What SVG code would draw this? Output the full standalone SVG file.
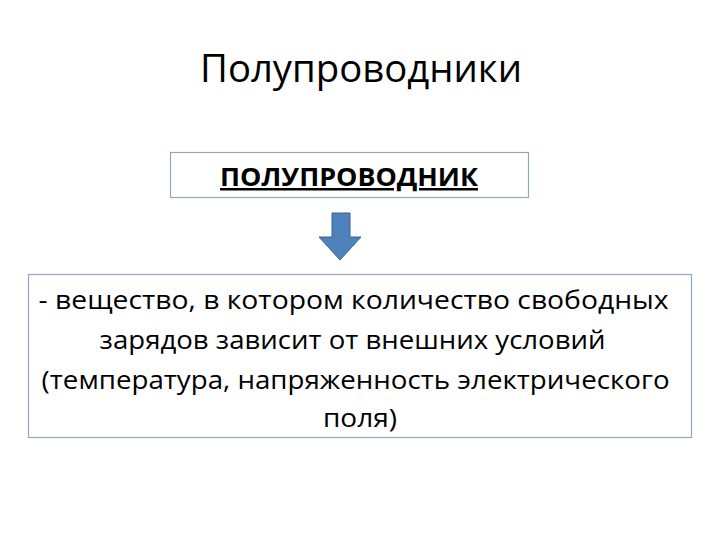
<svg xmlns="http://www.w3.org/2000/svg" width="720" height="540" viewBox="0 0 720 540">
<style>
.t{font-family:"Open Sans","Noto Sans","Liberation Sans",sans-serif;fill:#000;text-anchor:middle}
.box{fill:#fff;stroke:#8FA8BF;stroke-width:1.2}
</style>
<rect width="720" height="540" fill="#fff"/>
<text class="t" x="361" y="82" font-size="38" textLength="322" lengthAdjust="spacingAndGlyphs">Полупроводники</text>
<g id="term">
<rect class="box" x="170.5" y="152.5" width="358" height="45"/>
<text class="t" x="349" y="186" font-size="25" font-weight="bold" text-decoration="underline" textLength="258" lengthAdjust="spacingAndGlyphs">ПОЛУПРОВОДНИК</text>
</g>
<g id="connectors">
<path d="M332,213 H350 V237 H361 L340,260 L319,237 H332 Z" fill="#4F81BD" stroke="#3A6594" stroke-width="1"/>
</g>
<g id="definition">
<rect class="box" x="28.5" y="274.5" width="663" height="163"/>
<text class="t" font-size="26">
<tspan x="357" y="309" textLength="630" lengthAdjust="spacingAndGlyphs">- вещество, в котором количество свободных</tspan>
<tspan x="356" y="349" textLength="506" lengthAdjust="spacingAndGlyphs">зарядов зависит от внешних условий</tspan>
<tspan x="359" y="389" textLength="628" lengthAdjust="spacingAndGlyphs">(температура, напряженность электрического</tspan>
<tspan x="360" y="427" textLength="74" lengthAdjust="spacingAndGlyphs">поля)</tspan>
</text>
</g>
</svg>
